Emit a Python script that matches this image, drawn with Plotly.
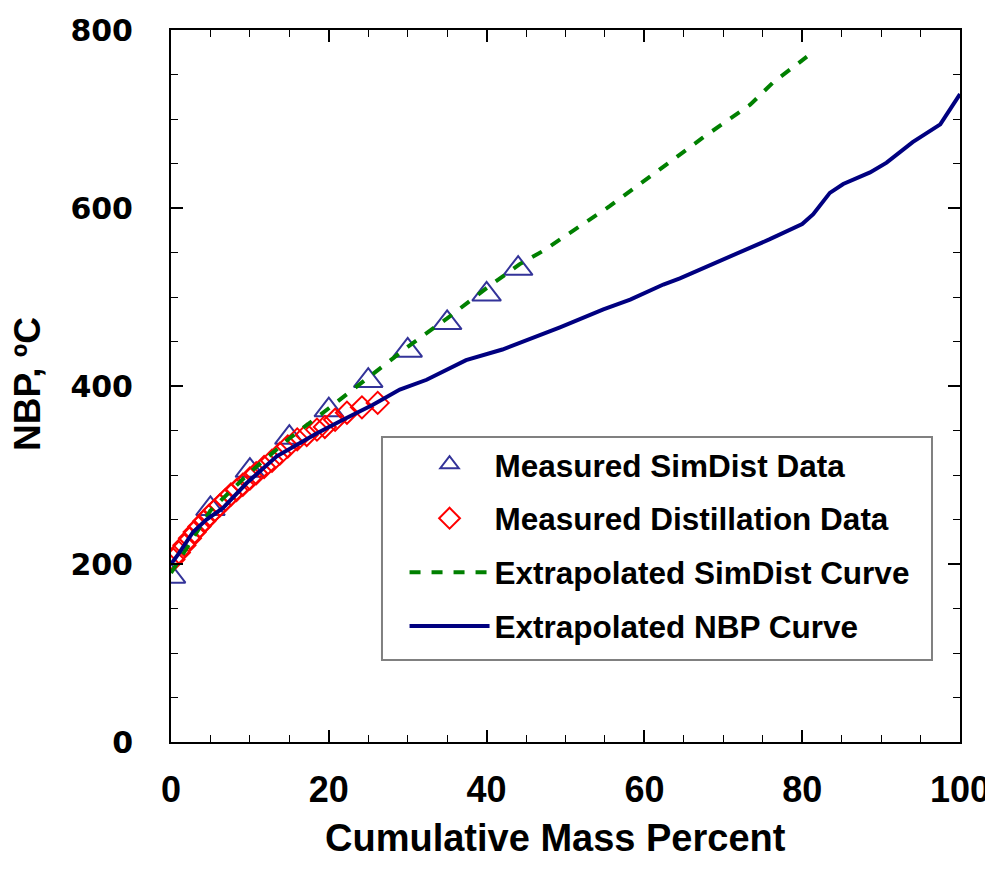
import plotly.graph_objects as go

# ---- data ----
simdist_x = [0, 5, 10, 15, 20, 25, 30, 35, 40, 44]
simdist_y = [186, 262, 305, 342, 373, 406, 440, 471, 503, 532]

dist_x = [0.3, 1.0, 1.7, 2.4, 3.0, 3.6, 4.2, 4.8, 5.5, 6.2, 6.9, 7.6, 8.3, 9.1,
          10.0, 10.8, 11.8, 12.8, 13.8, 14.8, 16.0, 17.2, 18.5, 19.5, 20.8,
          22.3, 24.2, 26.2]
dist_y = [205, 213, 221, 229, 236, 242, 248, 254, 260, 266, 272, 278, 283, 289,
          296, 302, 309, 316, 324, 332, 340, 345, 351, 354, 362, 370, 376, 381]

simcurve_x = [0, 5, 10, 15, 20, 25, 30, 35, 40, 44.2, 47.2, 49.7, 55.6, 61.6,
              67.4, 73.4, 76.3, 80.6]
simcurve_y = [190, 260, 303, 341, 375, 410, 444, 476, 510, 537, 552, 567, 602,
              641, 679, 716, 741, 770]

nbp_x = [0, 1, 2.8, 4.5, 6.6, 9.6, 13.4, 15.5, 18.5, 21.8, 25.6, 29, 32.4, 37.4,
         42, 49.3, 54.8, 58.2, 62.4, 64.5, 70.5, 75.9, 80, 81.4, 83.5, 85.2,
         88.6, 90.7, 94, 97.5, 100]
nbp_y = [200, 212, 236, 250, 263, 291, 321, 332, 347, 362, 379, 396, 407, 429,
         441, 466, 486, 497, 514, 521, 544, 565, 582, 593, 617, 627, 640, 651,
         674, 694, 728]

x_title = "Cumulative Mass Percent"
y_title = "NBP, ºC"
names = ["Measured SimDist Data", "Measured Distillation Data",
         "Extrapolated SimDist Curve", "Extrapolated NBP Curve"]

FONT = "Liberation Sans, Arial, sans-serif"

fig = go.Figure()
fig.add_trace(go.Scatter(
    x=simdist_x, y=simdist_y, mode="markers", name=names[0], legendgroup="a",
    marker=dict(symbol="triangle-up-open", size=25, color="#333399",
                line=dict(width=2, color="#333399"))))
fig.add_trace(go.Scatter(
    x=dist_x, y=dist_y, mode="markers", name=names[1], legendgroup="b",
    marker=dict(symbol="diamond-open", size=17, color="#FF0000",
                line=dict(width=2, color="#FF0000"))))
fig.add_trace(go.Scatter(
    x=simcurve_x, y=simcurve_y, mode="lines", name=names[2], legendgroup="c",
    line=dict(color="#008000", width=4, dash="11px,11px")))
fig.add_trace(go.Scatter(
    x=nbp_x, y=nbp_y, mode="lines", name=names[3], legendgroup="d",
    line=dict(color="#000080", width=4)))

axis_common = dict(
    showline=True, linecolor="black", linewidth=2, mirror="allticks",
    ticks="inside", ticklen=12, tickwidth=1.5, tickcolor="black",
    showgrid=False, zeroline=False,
)

fig.update_xaxes(
    range=[0, 100], tickmode="linear", tick0=0, dtick=20,
    tickfont=dict(family=FONT, size=36, color="black", weight="bold"),
    ticklabelstandoff=15,
    minor=dict(dtick=5, ticks="inside", ticklen=7, tickcolor="black", tickwidth=1),
    **axis_common)
fig.update_yaxes(
    range=[0, 800], tickmode="linear", tick0=0, dtick=200,
    tickfont=dict(family="DejaVu Sans", size=30, color="black", weight="bold"),
    ticklabelstandoff=30,
    minor=dict(dtick=50, ticks="inside", ticklen=7, tickcolor="black", tickwidth=1),
    **axis_common)

fig.update_layout(
    width=985, height=870,
    margin=dict(l=163, r=33, t=22, b=136, autoexpand=False),
    paper_bgcolor="white", plot_bgcolor="white",
    showlegend=True,
    legend=dict(
        x=0.296, y=0.428, xanchor="left", yanchor="top",
        bgcolor="rgba(0,0,0,0)", borderwidth=0,
        font=dict(family=FONT, size=31.5, color="black", weight="bold"),
        itemwidth=80, tracegroupgap=10, traceorder="grouped",
    ),
    shapes=[
        dict(type="rect", xref="paper", yref="paper",
             x0=0.2674, x1=0.9645, y0=0.1152, y1=0.4284,
             line=dict(color="#808080", width=2), fillcolor="white",
             layer="below"),
    ],
    annotations=[
        dict(text=x_title, xref="paper", yref="paper", x=0.487, y=-0.135,
             xanchor="center", yanchor="middle", showarrow=False,
             font=dict(family=FONT, size=38, color="black", weight="bold")),
        dict(text=y_title, xref="paper", yref="paper", x=-0.181, y=0.503,
             xanchor="center", yanchor="middle", showarrow=False, textangle=-90,
             font=dict(family=FONT, size=37, color="black", weight="bold")),
    ],
)

fig.write_html("out.html")
